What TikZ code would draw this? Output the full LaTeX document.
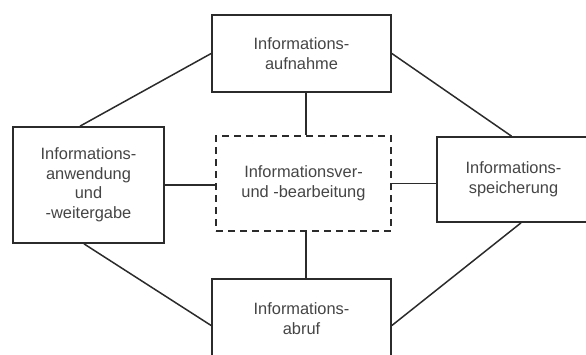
\documentclass[tikz,border=0pt]{standalone}
\usepackage{fontspec}
\setmainfont{Liberation Sans}
\usetikzlibrary{calc}
\definecolor{linegray}{HTML}{2B2B2B}
\definecolor{textgray}{HTML}{454545}
\begin{document}
\begin{tikzpicture}[x=1pt,y=-1pt,
  every node/.style={font=\fontsize{16.4}{19.5}\selectfont, text=textgray, align=center, inner sep=0pt},
  box/.style={draw=linegray, line width=1.7pt, fill=white},
  dashbox/.style={draw=linegray, line width=1.6pt, dash pattern=on 7pt off 5pt},
  link/.style={draw=linegray, line width=1.5pt}]
  \useasboundingbox (0,0) rectangle (586,354);
  \clip (0,0) rectangle (586,354);

  % boxes
  \node[box, minimum width=179pt, minimum height=77pt] (aufnahme) at (301.5,53.5)
    {Informations-\\aufnahme};
  \node[box, minimum width=151pt, minimum height=116pt] (anwendung) at (88.5,185)
    {Informations-\\anwendung\\und\\-weitergabe};
  \node[dashbox, minimum width=175pt, minimum height=95pt] (verarbeitung) at (303.5,183.5)
    {Informationsver-\\und -bearbeitung};
  \node[box, minimum width=153pt, minimum height=85pt] (speicherung) at (513.5,179.5)
    {Informations-\\speicherung};
  \node[box, minimum width=179pt, minimum height=79pt] (abruf) at (301.5,318.5)
    {Informations-\\abruf};

  % outer ring
  \draw[link] ([xshift=-8.5pt]anwendung.north) -- (aufnahme.west);
  \draw[link] (aufnahme.east) -- ([xshift=-2pt]speicherung.north);
  \draw[link] ([xshift=-4.5pt]anwendung.south) -- ([yshift=-7pt]abruf.west);
  \draw[link] ([xshift=7.5pt]speicherung.south) -- ([yshift=-7pt]abruf.east);

  % spokes to the centre
  \draw[link] ([xshift=4.5pt]aufnahme.south) -- ([xshift=4.5pt]aufnahme.south |- verarbeitung.north);
  \draw[link] ([xshift=4.5pt]abruf.north) -- ([xshift=4.5pt]abruf.north |- verarbeitung.south);
  \draw[link] (anwendung.east) -- (anwendung.east -| verarbeitung.west);
  \draw[link] (verarbeitung.east) -- (verarbeitung.east -| speicherung.west);
\end{tikzpicture}
\end{document}
